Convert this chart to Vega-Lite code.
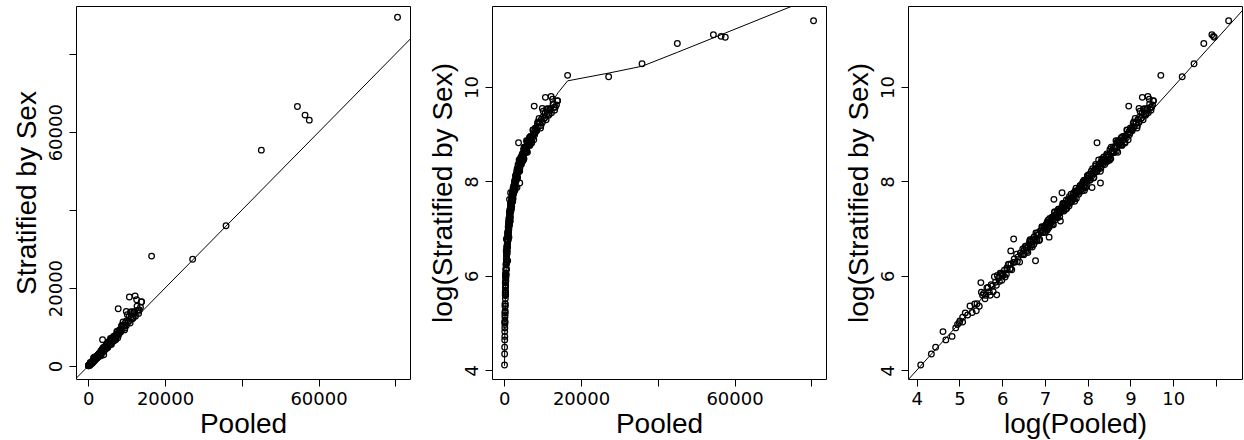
{
  "$schema": "https://vega.github.io/schema/vega-lite/v6.json",
  "padding": {"left": 12, "top": 5, "right": 0, "bottom": 0},
  "background": "white",
  "config": {
    "view": {"stroke": "black", "strokeWidth": 1},
    "axis": {"domain": false, "grid": false, "ticks": true, "tickColor": "black", "tickSize": 7, "tickWidth": 1,
      "labelFont": "DejaVu Sans", "labelFontSize": 18, "labelColor": "black", "labelPadding": 4,
      "labelOverlap": false, "labelFlush": false, "labelBound": false,
      "titleFont": "Liberation Sans", "titleFontSize": 28, "titleFontWeight": "normal", "titleColor": "black", "titlePadding": 6},
    "axisX": {"titlePadding": 2}
  },
  "datasets": {
    "pts": [
      {"P":60,"S":61},{"P":77,"S":77},{"P":85,"S":89},{"P":101,"S":124},{"P":108,"S":104},{"P":125,"S":112},{"P":136,"S":134},{"P":142,"S":144},{"P":148,"S":150},{"P":160,"S":168},
      {"P":150,"S":155},{"P":160,"S":152},{"P":170,"S":184},{"P":180,"S":176},{"P":190,"S":213},{"P":200,"S":186},{"P":212,"S":223},{"P":224,"S":224},{"P":236,"S":212},{"P":248,"S":285},
      {"P":262,"S":278},{"P":276,"S":268},{"P":290,"S":316},{"P":305,"S":268},{"P":320,"S":326},{"P":336,"S":396},{"P":352,"S":331},{"P":368,"S":383},{"P":385,"S":427},{"P":400,"S":368},
      {"P":245,"S":350},{"P":355,"S":270},{"P":220,"S":193},
      {"P":255,"S":268},{"P":270,"S":248},{"P":282,"S":313},{"P":298,"S":289},{"P":312,"S":334},{"P":327,"S":288},{"P":345,"S":352},{"P":360,"S":407},{"P":378,"S":359},{"P":395,"S":427},
      {"P":410,"S":410},{"P":432,"S":393},{"P":450,"S":477},{"P":470,"S":517},{"P":490,"S":470},
      {"P":405,"S":421},{"P":415,"S":407},{"P":425,"S":455},{"P":445,"S":418},{"P":455,"S":460},{"P":465,"S":512},{"P":485,"S":466},{"P":495,"S":520},{"P":505,"S":460},{"P":525,"S":536},
      {"P":535,"S":578},{"P":545,"S":540},{"P":565,"S":638},{"P":575,"S":546},{"P":585,"S":603},{"P":607,"S":540},{"P":618,"S":655},{"P":630,"S":630},{"P":653,"S":712},{"P":665,"S":645},
      {"P":676,"S":703},{"P":700,"S":686},{"P":710,"S":760},{"P":722,"S":679},{"P":745,"S":752},{"P":768,"S":845},{"P":780,"S":749},{"P":792,"S":832},{"P":816,"S":743},{"P":840,"S":857},
      {"P":850,"S":918},{"P":864,"S":855},{"P":888,"S":1003},{"P":912,"S":866},{"P":936,"S":964},{"P":960,"S":854},{"P":985,"S":1044},{"P":1010,"S":1010},{"P":1035,"S":1128},{"P":1060,"S":1028},{"P":1085,"S":1128},
      {"P":670,"S":630},{"P":690,"S":752},{"P":715,"S":729},{"P":735,"S":662},{"P":757,"S":795},{"P":775,"S":868},{"P":800,"S":776},{"P":822,"S":880},{"P":845,"S":786},{"P":870,"S":879},
      {"P":895,"S":841},{"P":920,"S":1003},{"P":945,"S":964},{"P":970,"S":873},{"P":995,"S":1045},{"P":1020,"S":1142},{"P":1048,"S":1017},{"P":1070,"S":1145},{"P":1092,"S":1016},{"P":1115,"S":1126},
      {"P":528,"S":880},{"P":880,"S":555},{"P":493,"S":685},{"P":1210,"S":916},
      {"P":1100,"S":1122},{"P":1117,"S":1184},{"P":1135,"S":1090},{"P":1153,"S":1257},{"P":1171,"S":1159},{"P":1189,"S":1237},{"P":1208,"S":1123},{"P":1227,"S":1362},{"P":1246,"S":1258},{"P":1265,"S":1227},
      {"P":1285,"S":1375},{"P":1305,"S":1201},{"P":1326,"S":1392},{"P":1347,"S":1347},{"P":1368,"S":1546},{"P":1389,"S":1320},{"P":1411,"S":1453},{"P":1433,"S":1404},{"P":1456,"S":1572},{"P":1479,"S":1390},
      {"P":1502,"S":1652},{"P":1525,"S":1556},{"P":1549,"S":1410},{"P":1574,"S":1653},{"P":1598,"S":1614},{"P":1624,"S":1656},{"P":1649,"S":1748},{"P":1675,"S":1608},{"P":1701,"S":1854},{"P":1728,"S":1711},
      {"P":1755,"S":1825},{"P":1783,"S":1658},{"P":1811,"S":2010},{"P":1839,"S":1857},{"P":1868,"S":1812},{"P":1897,"S":2030},{"P":1927,"S":1773},{"P":1957,"S":2055},{"P":1988,"S":1988},{"P":2019,"S":2281},
      {"P":2051,"S":1948},{"P":2083,"S":2145},{"P":2116,"S":2074},{"P":2149,"S":2321},{"P":2183,"S":2052},{"P":2217,"S":2439},{"P":2252,"S":2297},{"P":2287,"S":2081},{"P":2323,"S":2439},{"P":2360,"S":2384},
      {"P":2397,"S":2445},{"P":2434,"S":2580},{"P":2473,"S":2374},{"P":2511,"S":2737},{"P":2551,"S":2525},{"P":2591,"S":2695},{"P":2632,"S":2448},{"P":2673,"S":2967},{"P":2715,"S":2742},{"P":2758,"S":2675},
      {"P":2801,"S":2997},{"P":2845,"S":2617},{"P":2890,"S":3035},{"P":2935,"S":2935},{"P":2981,"S":3369},
      {"P":1108,"S":1019},{"P":1144,"S":1201},{"P":1180,"S":1310},{"P":1217,"S":1168},{"P":1256,"S":1281},{"P":1295,"S":1399},{"P":1336,"S":1189},{"P":1378,"S":1571},{"P":1422,"S":1465},{"P":1467,"S":1379},
      {"P":1513,"S":1649},{"P":1561,"S":1530},{"P":1611,"S":1708},{"P":1662,"S":1861},{"P":1714,"S":1594},{"P":1769,"S":1840},{"P":1825,"S":1679},{"P":1882,"S":1976},{"P":1942,"S":2156},{"P":2003,"S":1923},
      {"P":2067,"S":2108},{"P":2132,"S":2303},{"P":2200,"S":1958},{"P":2269,"S":2587},{"P":2341,"S":2411},{"P":2415,"S":2270},{"P":2492,"S":2716},{"P":2571,"S":2520},{"P":2652,"S":2811},{"P":2736,"S":3064},
      {"P":2823,"S":2625},{"P":2912,"S":3028},{"P":1160,"S":1067},{"P":1400,"S":1470},{"P":1690,"S":1876},{"P":1990,"S":1910},{"P":2300,"S":2346},{"P":2600,"S":2808},{"P":2760,"S":2456},{"P":2960,"S":3374},
      {"P":1575,"S":1290},{"P":1353,"S":2040},{"P":1636,"S":2350},
      {"P":3020,"S":3171},{"P":3082,"S":3452},{"P":3145,"S":3051},{"P":3210,"S":3467},{"P":3276,"S":3342},{"P":3343,"S":3911},{"P":3411,"S":3206},{"P":3481,"S":3794},{"P":3552,"S":3694},{"P":3625,"S":4133},
      {"P":3700,"S":3663},{"P":3776,"S":4040},{"P":3853,"S":4701},{"P":3932,"S":4050},{"P":4013,"S":3692},{"P":4095,"S":4505},{"P":4179,"S":4430},{"P":4265,"S":4308},{"P":4352,"S":5005},{"P":4441,"S":4263},
      {"P":4532,"S":4759},{"P":4625,"S":5180},{"P":4720,"S":4578},{"P":4817,"S":5202},{"P":4916,"S":5014},{"P":5017,"S":5870},{"P":5120,"S":4813},{"P":5224,"S":5694},{"P":5331,"S":5544},{"P":5440,"S":6202},
      {"P":5552,"S":5496},{"P":5666,"S":6063},{"P":5782,"S":7054},{"P":5900,"S":6077},{"P":6021,"S":5539},{"P":6145,"S":6760},{"P":6271,"S":6647},{"P":6400,"S":6464},{"P":6531,"S":7511},{"P":6665,"S":6398},
      {"P":6802,"S":7142},{"P":6941,"S":7774},{"P":7083,"S":6871},{"P":7228,"S":7806},{"P":7377,"S":7525},{"P":7528,"S":8808},{"P":7682,"S":7221},{"P":7840,"S":8546},{"P":8000,"S":8320},{"P":8100,"S":9234},
      {"P":3050,"S":3325},{"P":3180,"S":3116},{"P":3240,"S":3694},{"P":3390,"S":3526},{"P":3450,"S":3243},{"P":3590,"S":4272},{"P":3660,"S":3916},{"P":3820,"S":3858},{"P":3890,"S":4318},{"P":4060,"S":3938},
      {"P":4140,"S":4802},{"P":4310,"S":4526},{"P":4400,"S":4796},{"P":4580,"S":4488},{"P":4670,"S":5324},{"P":4870,"S":5065},{"P":4970,"S":4672},{"P":5170,"S":6152},{"P":5280,"S":5650},{"P":5500,"S":5555},
      {"P":5610,"S":6227},{"P":5840,"S":5665},{"P":5960,"S":6914},{"P":6210,"S":6521},{"P":6330,"S":6900},{"P":6600,"S":6468},{"P":6730,"S":7672},{"P":7010,"S":7290},{"P":7150,"S":6721},{"P":7450,"S":8866},
      {"P":7600,"S":8132},{"P":7920,"S":7999},{"P":4220,"S":4684},{"P":5060,"S":4908},{"P":6090,"S":7064},
      {"P":4020,"S":2880},{"P":3300,"S":2620},{"P":3710,"S":6760},{"P":7790,"S":14700},
      {"P":8250,"S":9075},{"P":8450,"S":8704},{"P":8650,"S":10207},{"P":8850,"S":9470},{"P":9050,"S":11313},{"P":9250,"S":10360},{"P":9450,"S":9261},{"P":9650,"S":11098},{"P":9900,"S":10395},{"P":10150,"S":13195},
      {"P":10400,"S":11336},{"P":10650,"S":12780},{"P":10900,"S":11009},{"P":11150,"S":12600},{"P":11400,"S":13908},{"P":11700,"S":12402},{"P":12000,"S":13920},{"P":12300,"S":12792},{"P":12600,"S":17010},{"P":12900,"S":14319},
      {"P":13300,"S":14364},{"P":13800,"S":16422},
      {"P":8350,"S":8851},{"P":8750,"S":10500},{"P":9150,"S":10248},{"P":9550,"S":9741},{"P":10000,"S":11600},{"P":10500,"S":11445},{"P":11000,"S":13860},{"P":11550,"S":12128},{"P":12100,"S":13794},{"P":12700,"S":15367},
      {"P":13100,"S":13493},{"P":13600,"S":15096},
      {"P":10700,"S":17700},{"P":12200,"S":18000},{"P":13900,"S":16500},{"P":9900,"S":14000},{"P":11800,"S":13800},
      {"P":16500,"S":28200},{"P":27200,"S":27400},{"P":35900,"S":36000},{"P":45100,"S":55400},{"P":54500,"S":66600},{"P":56500,"S":64400},{"P":57600,"S":63100},{"P":80600,"S":89500}
    ],
    "lw": [
      {"P":60,"S":60},{"P":150,"S":155},{"P":400,"S":410},{"P":1100,"S":1140},{"P":3000,"S":3150},{"P":6000,"S":6500},{"P":8000,"S":8600},{"P":10000,"S":11500},{"P":12600,"S":16300},{"P":14000,"S":19500},
      {"P":16500,"S":25100},{"P":27200,"S":29600},{"P":35900,"S":34200},{"P":45100,"S":45900},{"P":54500,"S":62400},{"P":56500,"S":66700},{"P":57600,"S":69100},{"P":80600,"S":146700}
    ],
    "id1": [{"P":-5000,"S":-5000},{"P":95000,"S":95000}],
    "id3": [{"P":40,"S":40},{"P":130000,"S":130000}]
  },
  "hconcat": [
    {
      "width": 334, "height": 373,
      "encoding": {
        "x": {"field": "P", "type": "quantitative", "title": "Pooled",
          "scale": {"domain": [-3210, 83850], "nice": false, "zero": false},
          "axis": {"values": [0, 20000, 40000, 60000, 80000], "labelExpr": "datum.value == 40000 || datum.value == 80000 ? '' : format(datum.value, 'd')"}},
        "y": {"field": "S", "type": "quantitative", "title": "Stratified by Sex",
          "scale": {"domain": [-3340, 92400], "nice": false, "zero": false},
          "axis": {"values": [0, 20000, 40000, 60000, 80000], "labelExpr": "datum.value == 40000 || datum.value == 80000 ? '' : format(datum.value, 'd')", "labelAngle": -90, "labelAlign": "center", "labelBaseline": "bottom"}}
      },
      "layer": [
        {"data": {"name": "id1"}, "mark": {"type": "line", "color": "black", "strokeWidth": 1, "clip": true}},
        {"data": {"name": "pts"}, "mark": {"type": "point", "shape": "circle", "filled": false, "color": "black", "strokeWidth": 1.25, "size": 32, "opacity": 1, "clip": true}}
      ]
    },
    {
      "width": 334, "height": 373,
      "encoding": {
        "x": {"field": "P", "type": "quantitative", "title": "Pooled",
          "scale": {"domain": [-3210, 83850], "nice": false, "zero": false},
          "axis": {"values": [0, 20000, 40000, 60000, 80000], "labelExpr": "datum.value == 40000 || datum.value == 80000 ? '' : format(datum.value, 'd')"}},
        "y": {"field": "S", "type": "quantitative", "title": "log(Stratified by Sex)",
          "scale": {"type": "log", "domain": [45.42, 122514], "nice": false},
          "axis": {"values": [54.59815, 403.4288, 2980.958, 22026.47], "labelExpr": "format(log(datum.value), '.0f')", "labelAngle": -90, "labelAlign": "center", "labelBaseline": "bottom"}}
      },
      "layer": [
        {"data": {"name": "lw"}, "mark": {"type": "line", "color": "black", "strokeWidth": 1, "clip": true}},
        {"data": {"name": "pts"}, "mark": {"type": "point", "shape": "circle", "filled": false, "color": "black", "strokeWidth": 1.25, "size": 32, "opacity": 1, "clip": true}}
      ]
    },
    {
      "width": 334, "height": 373,
      "encoding": {
        "x": {"field": "P", "type": "quantitative", "title": "log(Pooled)",
          "scale": {"type": "log", "domain": [44.57, 110192], "nice": false},
          "axis": {"values": [54.59815, 148.4132, 403.4288, 1096.633, 2980.958, 8103.084, 22026.47, 59874.14], "labelExpr": "log(datum.value) > 10.5 ? '' : format(log(datum.value), '.0f')"}},
        "y": {"field": "S", "type": "quantitative", "title": "log(Stratified by Sex)",
          "scale": {"type": "log", "domain": [45.42, 122514], "nice": false},
          "axis": {"values": [54.59815, 403.4288, 2980.958, 22026.47], "labelExpr": "format(log(datum.value), '.0f')", "labelAngle": -90, "labelAlign": "center", "labelBaseline": "bottom"}}
      },
      "layer": [
        {"data": {"name": "id3"}, "mark": {"type": "line", "color": "black", "strokeWidth": 1, "clip": true}},
        {"data": {"name": "pts"}, "mark": {"type": "point", "shape": "circle", "filled": false, "color": "black", "strokeWidth": 1.25, "size": 32, "opacity": 1, "clip": true}}
      ]
    }
  ],
  "spacing": 82,
  "bounds": "flush"
}
